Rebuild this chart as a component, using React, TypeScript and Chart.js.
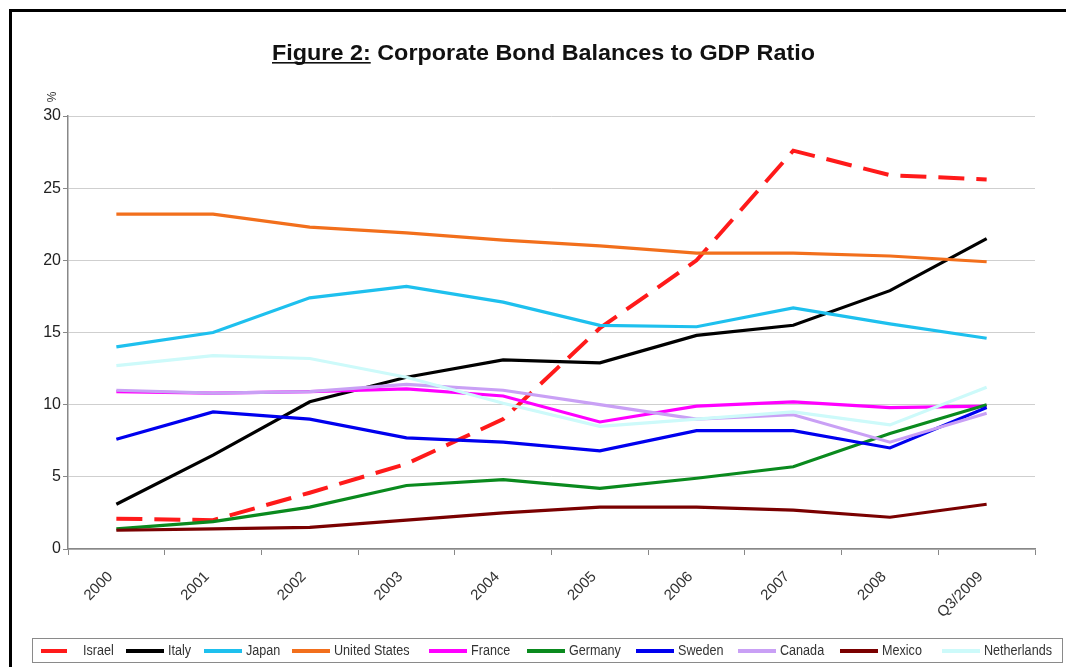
import React, { useEffect, useRef } from "react";
import { Chart, registerables } from "chart.js";

Chart.register(...registerables);

const categories = ["2000", "2001", "2002", "2003", "2004", "2005", "2006", "2007", "2008", "Q3/2009"];
const israel = [2.1, 2.0, 3.9, 5.9, 9.0, 15.3, 20.0, 27.6, 25.9, 25.6];
const italy = [3.1, 6.5, 10.2, 11.9, 13.1, 12.9, 14.8, 15.5, 17.9, 21.5];
const japan = [14.0, 15.0, 17.4, 18.2, 17.1, 15.5, 15.4, 16.7, 15.6, 14.6];
const unitedStates = [23.2, 23.2, 22.3, 21.9, 21.4, 21.0, 20.5, 20.5, 20.3, 19.9];
const france = [10.9, 10.8, 10.9, 11.1, 10.6, 8.8, 9.9, 10.2, 9.8, 9.9];
const germany = [1.4, 1.9, 2.9, 4.4, 4.8, 4.2, 4.9, 5.7, 8.0, 10.0];
const sweden = [7.6, 9.5, 9.0, 7.7, 7.4, 6.8, 8.2, 8.2, 7.0, 9.8];
const canada = [11.0, 10.8, 10.9, 11.4, 11.0, 10.0, 9.0, 9.3, 7.4, 9.4];
const mexico = [1.3, 1.4, 1.5, 2.0, 2.5, 2.9, 2.9, 2.7, 2.2, 3.1];
const netherlands = [12.7, 13.4, 13.2, 11.9, 10.1, 8.5, 9.0, 9.5, 8.6, 11.2];

const seriesNames = ["Israel", "Italy", "Japan", "United States", "France", "Germany", "Sweden", "Canada", "Mexico", "Netherlands"];
const seriesValues = [israel, italy, japan, unitedStates, france, germany, sweden, canada, mexico, netherlands];
const seriesColors = ["#ff1a1a", "#000000", "#1ec0ee", "#f26f1c", "#ff00ff", "#0a8a1e", "#0000ee", "#c9a0f5", "#7a0000", "#cdfafa"];

const titleMain = "Figure 2:";
const titleRest = " Corporate Bond Balances to GDP Ratio";
const yUnit = "%";

const legendSlots = [41, 126, 204, 292, 429, 527, 636, 738, 840, 942];
const SANS = "'Liberation Sans', Arimo, Arial, sans-serif";
const NARROW = "'Liberation Sans Narrow', 'Liberation Sans', Arial, sans-serif";

const decorPlugin = {
  id: "decor",
  afterDraw(chart: any) {
    const ctx = chart.ctx;
    ctx.save();
    ctx.fillStyle = "#000";
    ctx.fillRect(9, 9, 1066, 3);
    ctx.fillRect(9, 9, 3, 667);

    // title
    ctx.fillStyle = "#111";
    ctx.font = "bold 20px " + SANS;
    ctx.textBaseline = "alphabetic";
    ctx.textAlign = "left";
    const full = titleMain + titleRest;
    const w = ctx.measureText(full).width;
    const target = 543;
    const sx = target / w;
    const x0 = 272;
    const base = 60;
    ctx.save();
    ctx.translate(x0, base);
    ctx.scale(sx, 1.08);
    ctx.fillText(full, 0, 0);
    const wMain = ctx.measureText(titleMain).width;
    ctx.restore();
    ctx.fillRect(x0, base + 2, wMain * sx, 1.6);

    // unit label
    ctx.save();
    ctx.translate(53, 97);
    ctx.rotate(-Math.PI / 2);
    ctx.font = "12px " + SANS;
    ctx.fillStyle = "#333";
    ctx.textAlign = "center";
    ctx.textBaseline = "middle";
    ctx.fillText(yUnit, 0, 0);
    ctx.restore();

    // legend box
    ctx.strokeStyle = "#8a8a8a";
    ctx.lineWidth = 1;
    ctx.strokeRect(32.5, 638.5, 1030, 24);
    ctx.textBaseline = "middle";
    const ly = 651;
    chart.data.datasets.forEach((ds: any, i: number) => {
      const sx0 = legendSlots[i];
      ctx.save();
      ctx.strokeStyle = ds.borderColor;
      ctx.lineWidth = 4;
      ctx.setLineDash(ds.borderDash || []);
      ctx.beginPath();
      ctx.moveTo(sx0, ly);
      ctx.lineTo(sx0 + 38, ly);
      ctx.stroke();
      ctx.restore();
      ctx.save();
      ctx.fillStyle = "#333";
      ctx.font = "14px " + NARROW;
      ctx.translate(sx0 + 42, ly);
      ctx.scale(0.9, 1.05);
      ctx.fillText(ds.label, 0, 0);
      ctx.restore();
    });
    ctx.restore();
  },
};

export default function App() {
  const ref = useRef<HTMLCanvasElement | null>(null);
  useEffect(() => {
    let chart: any = null;
    let cancelled = false;
    const build = () => {
      if (cancelled || !ref.current) return;
      const datasets = seriesNames.map((name, i) => ({
        label: name,
        data: seriesValues[i],
        borderColor: seriesColors[i],
        backgroundColor: seriesColors[i],
        borderWidth: i === 0 ? 4 : 3.2,
        borderDash: i === 0 ? [26, 12] : [],
        pointRadius: 0,
        tension: 0,
        order: -i,
      }));
      chart = new Chart(ref.current, {
        type: "line",
        data: { labels: categories, datasets },
        options: {
          responsive: false,
          animation: false,
          devicePixelRatio: 1,
          layout: { padding: { top: 116, right: 31, left: 0, bottom: 0 } },
          plugins: { legend: { display: false }, title: { display: false }, tooltip: { enabled: false } },
          scales: {
            x: {
              offset: true,
              grid: { offset: true, drawOnChartArea: false, tickLength: 6, color: "#888", tickColor: "#888" },
              border: { color: "#888", width: 1.5 },
              ticks: {
                maxRotation: 45,
                minRotation: 45,
                padding: 13,
                labelOffset: -6,
                color: "#333",
                font: { size: 15, family: SANS },
              },
              afterFit: (s: any) => {
                s.height = 118;
              },
            },
            y: {
              min: 0,
              max: 30,
              ticks: {
                stepSize: 5,
                padding: 2,
                color: "#222",
                font: { size: 16, family: SANS },
              },
              grid: { color: "#cfcfcf", tickLength: 5, tickColor: "#888" },
              border: { color: "#888", width: 1.5 },
              afterFit: (s: any) => {
                s.width = 68;
              },
            },
          },
        },
        plugins: [decorPlugin],
      });
    };
    const fonts: any = (document as any).fonts;
    if (fonts && fonts.load) {
      Promise.all([
        fonts.load("16px 'Liberation Sans'"),
        fonts.load("bold 20px 'Liberation Sans'"),
        fonts.load("14px 'Liberation Sans Narrow'"),
      ])
        .catch(() => null)
        .then(build);
    } else {
      build();
    }
    return () => {
      cancelled = true;
      if (chart) chart.destroy();
    };
  }, []);
  return (
    <div style={{ position: "absolute", left: 0, top: 0, width: 1066, height: 667, background: "#fff" }}>
      <canvas ref={ref} width={1066} height={667} style={{ display: "block" }} />
    </div>
  );
}
